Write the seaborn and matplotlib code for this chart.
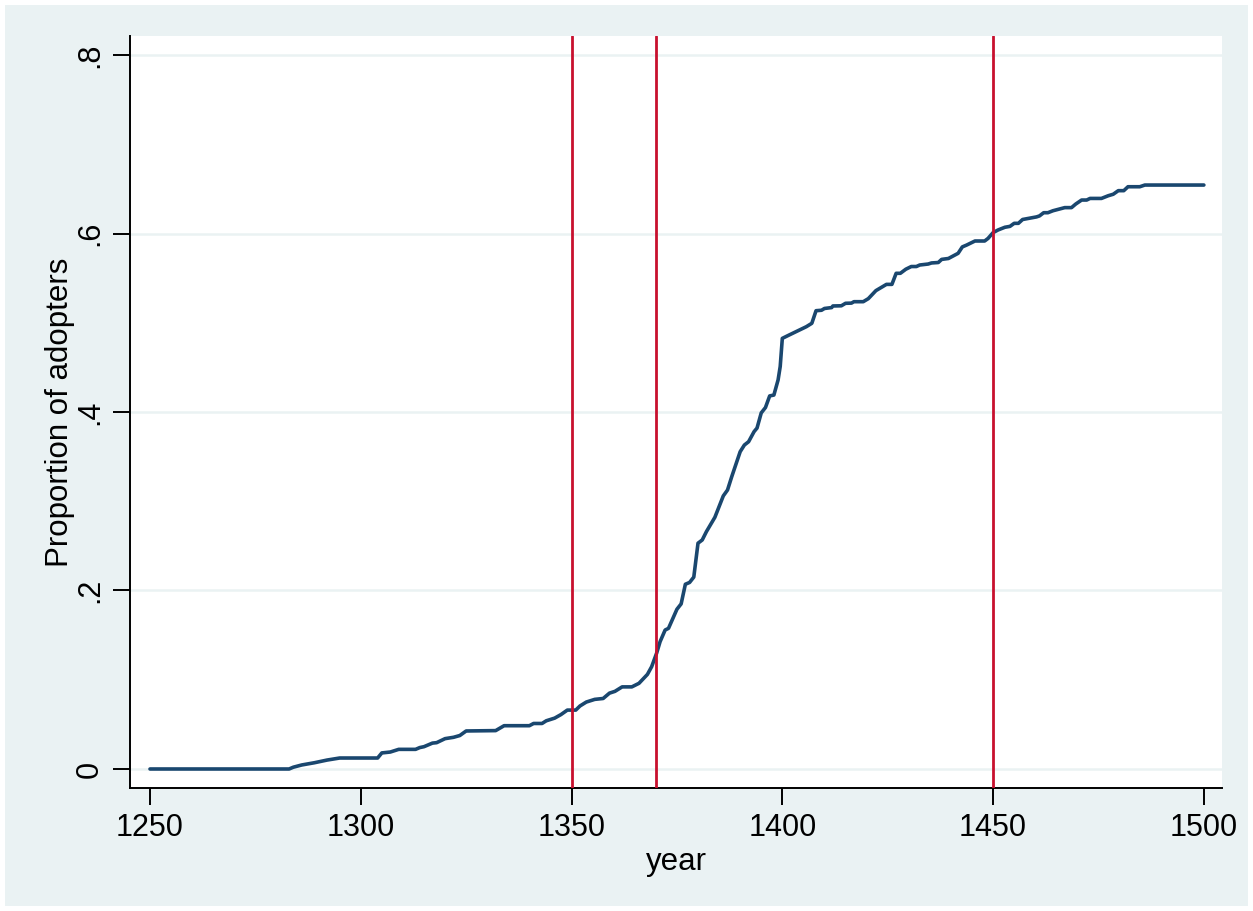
import matplotlib
matplotlib.use("Agg")
import matplotlib.pyplot as plt
import seaborn as sns
import pandas as pd
from matplotlib.patches import Rectangle

# Data (breakpoints of the cumulative curve)
years = [1250, 1283, 1284, 1286, 1289, 1291, 1292, 1295, 1304, 1305, 1307, 1309, 1313, 1314,
         1315, 1317, 1318, 1320, 1322, 1323.5, 1325, 1332, 1334, 1340, 1341, 1343, 1344, 1346,
         1347.5, 1349, 1351, 1352, 1353.5, 1355.5, 1357.5, 1359, 1360.3, 1362, 1364.3, 1366, 1368,
         1369, 1370.2, 1371, 1372.2, 1373, 1375, 1376, 1377, 1378, 1379, 1380, 1381, 1382,
         1384, 1386, 1387, 1388, 1390, 1391, 1392, 1393.3, 1394, 1395, 1396, 1397, 1398, 1399,
         1399.5, 1400, 1401.5, 1405.7, 1407, 1408, 1409.3, 1410, 1411.7, 1412, 1414, 1415,
         1416.4, 1417, 1419.2, 1420.4, 1422.2, 1423.5, 1424.7, 1426, 1427, 1428, 1429.3, 1430.6,
         1431.8, 1432.6, 1434.6, 1435.4, 1437, 1437.8, 1439.4, 1441.7, 1442.7, 1443.7, 1445.7,
         1448, 1448.8, 1450, 1451.2, 1452.8, 1454, 1455, 1456, 1457, 1458.3, 1460.3, 1461, 1462,
         1463, 1464.2, 1465.4, 1467, 1468.6, 1469.6, 1471, 1472.2, 1473, 1475.7, 1477.3, 1478.5,
         1479.7, 1481, 1482, 1484.8, 1486, 1500]
proportion = [0, 0, 0.002, 0.0045, 0.007, 0.009, 0.010, 0.0123, 0.0123, 0.018, 0.019, 0.022, 0.022,
              0.024, 0.025, 0.029, 0.0295, 0.034, 0.0355, 0.0375, 0.0426, 0.043, 0.0485, 0.0485,
              0.051, 0.051, 0.054, 0.057, 0.061, 0.066, 0.066, 0.0706, 0.075, 0.078, 0.079, 0.085,
              0.087, 0.092, 0.092, 0.096, 0.106, 0.1146, 0.13, 0.1426, 0.1557, 0.1576, 0.179,
              0.185, 0.207, 0.209, 0.215, 0.253, 0.2566, 0.266, 0.282, 0.306, 0.3126, 0.3275,
              0.3555, 0.363, 0.3667, 0.378, 0.382, 0.399, 0.405, 0.418, 0.419, 0.436, 0.451,
              0.4825, 0.486, 0.4956, 0.4994, 0.5135, 0.514, 0.516, 0.517, 0.5188, 0.519, 0.5218,
              0.522, 0.5236, 0.5236, 0.527, 0.536, 0.5396, 0.543, 0.543, 0.5554, 0.5554, 0.56,
              0.563, 0.563, 0.5647, 0.5658, 0.567, 0.5675, 0.571, 0.572, 0.5778, 0.585, 0.587,
              0.5916, 0.5916, 0.5945, 0.601, 0.604, 0.607, 0.608, 0.6114, 0.6114, 0.6157, 0.6168,
              0.6186, 0.6197, 0.6233, 0.6233, 0.6255, 0.627, 0.629, 0.629, 0.633, 0.6375, 0.6375,
              0.6393, 0.6393, 0.6423, 0.644, 0.648, 0.648, 0.6524, 0.6524, 0.6543, 0.6543]
ref_years = [1350, 1370, 1450]
x_ticks = [1250, 1300, 1350, 1400, 1450, 1500]
y_ticks = [0, 0.2, 0.4, 0.6, 0.8]
y_ticklabels = ["0", ".2", ".4", ".6", ".8"]

sns.set_theme(style="white")
plt.rcParams['font.family'] = ['Liberation Sans', 'DejaVu Sans']
plt.rcParams['text.color'] = 'black'
plt.rcParams['axes.labelcolor'] = 'black'
plt.rcParams['xtick.color'] = 'black'
plt.rcParams['ytick.color'] = 'black'

df = pd.DataFrame({"year": years, "prop": proportion})

fig = plt.figure(figsize=(12.53, 9.11), dpi=100)
fig.patch.set_facecolor("white")
fig.patches.append(Rectangle((5 / 1253, 5 / 911), 1 - 10 / 1253, 1 - 10 / 911,
                             transform=fig.transFigure, facecolor="#EAF2F3",
                             edgecolor="none", zorder=-10))

W, H = 1253, 911
ax = fig.add_axes([130 / W, (H - 788) / H, (1222 - 130) / W, (788 - 36) / H])
ax.set_facecolor("white")

for yt in y_ticks:
    ax.axhline(yt, color="#EAF2F3", lw=1.8, zorder=0)

sns.lineplot(data=df, x="year", y="prop", ax=ax, color="#1A476F", lw=2.6, zorder=3)
for ry in ref_years:
    ax.axvline(ry, color="#C8102E", lw=2.0, zorder=4)

ax.set_xlim(1245.26, 1504.3)
ax.set_ylim(-0.0213, 0.8213)
ax.set_xticks(x_ticks)
ax.set_xticklabels([str(t) for t in x_ticks])
ax.set_yticks(y_ticks)
ax.set_yticklabels(y_ticklabels, rotation=90, va="center")

for s in ["top", "right"]:
    ax.spines[s].set_visible(False)
for s in ["left", "bottom"]:
    ax.spines[s].set_color("black")
    ax.spines[s].set_linewidth(1.4)

ax.tick_params(axis="both", which="major", direction="out", length=12, width=1.4,
               color="black", labelcolor="black", labelsize=22, pad=6, bottom=True, left=True)
ax.set_xlabel("year", fontsize=22.5, labelpad=3, color="black")
ax.set_ylabel("Proportion of adopters", fontsize=22.5, labelpad=0, color="black")

fig.savefig("out.png", dpi=100, facecolor=fig.get_facecolor())
